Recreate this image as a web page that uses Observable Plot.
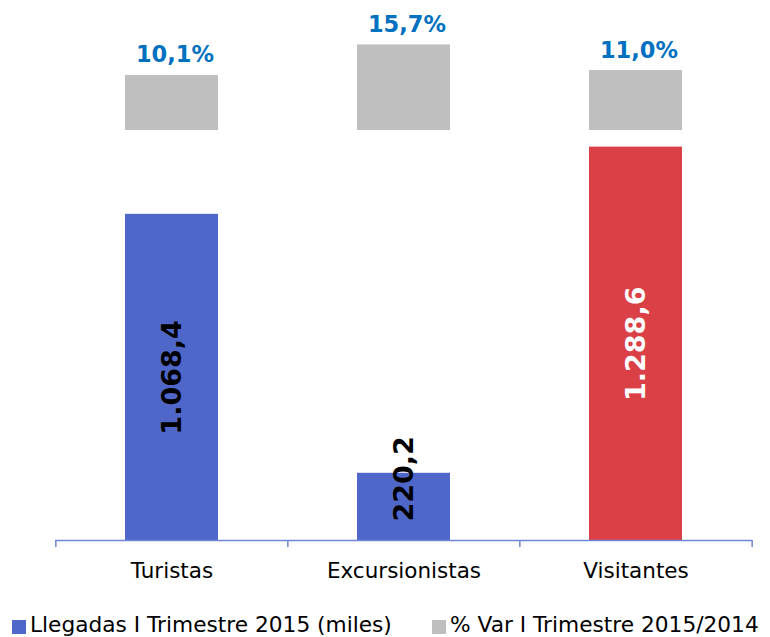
<!DOCTYPE html>
<html>
<head>
<meta charset="utf-8">
<script src="https://cdn.jsdelivr.net/npm/d3@7"></script>
<script src="https://cdn.jsdelivr.net/npm/@observablehq/plot@0.6"></script>
<style>
  body { margin: 0; background: #fff; font-family: Verdana, "DejaVu Sans", sans-serif; }
  #wrap { position: relative; width: 770px; height: 637px; overflow: hidden; background: #fff; }
  #wrap svg { position: absolute; left: 0; top: 0; }
  .lg { position: absolute; font-size: 21.7px; line-height: 24px; white-space: nowrap; color: #000; }
  .sw { position: absolute; width: 14px; height: 14px; }
</style>
</head>
<body>
<div id="wrap"></div>
<script>
// ---- data ----
const categories = ["Turistas", "Excursionistas", "Visitantes"];
const llegadas = [1068.4, 220.2, 1288.6];           // miles
const variacion = [10.1, 15.7, 11.0];               // %
const legendLabels = ["Llegadas I Trimestre 2015 (miles)", "% Var I Trimestre 2015/2014"];

// ---- styling ----
const BLUE = "#4F67C9", RED = "#DA4046", GRAY = "#BFBFBF", LABEL = "#0070C0", AXIS = "#6F86D6";
const FONT = 'Verdana, "DejaVu Sans", sans-serif';
const W = 770, H = 600, ML = 55, MR = 18;

const es = d3.formatLocale({decimal: ",", thousands: ".", grouping: [3]});
const fmtNum = es.format(",.1f");
const fmtPct = d => es.format(".1f")(d) + "%";

const data = categories.map((c, i) => ({cat: c, value: llegadas[i], pct: variacion[i]}));
const step = (W - ML - MR) / categories.length;
const xOpts = {domain: categories, paddingInner: 0.6, paddingOuter: 0.3};

const p1 = Plot.plot({
  width: W, height: H,
  marginLeft: ML, marginRight: MR, marginTop: 21, marginBottom: 60,
  x: xOpts,
  y: {domain: [0, 1700], axis: null},
  color: {domain: categories, range: [BLUE, BLUE, RED]},
  style: {fontFamily: FONT, background: "transparent", overflow: "visible"},
  marks: [
    Plot.barY(data, {x: "cat", y: "value", fill: "cat"}),
    Plot.ruleY([0], {stroke: AXIS, strokeWidth: 1.5}),
    Plot.ruleX(categories, {x: d => d, y1: 0, y2: -23, dx: -step / 2, stroke: AXIS, strokeWidth: 1.5}),
    Plot.ruleX(categories.slice(-1), {x: d => d, y1: 0, y2: -23, dx: step / 2, stroke: AXIS, strokeWidth: 1.5}),
    Plot.axisX({tickSize: 0, tickPadding: 22, fontSize: 21.5, label: null, fill: "#000"}),
    // value labels inside bars
    Plot.text(data.filter(d => d.value >= 400 && d.cat !== "Visitantes"), {
      x: "cat", y: d => d.value / 2, text: d => fmtNum(d.value), rotate: -90,
      fill: "#000", fontSize: 27, fontWeight: "bold"
    }),
    Plot.text(data.filter(d => d.cat === "Visitantes"), {
      x: "cat", y: d => d.value / 2, text: d => fmtNum(d.value), rotate: -90,
      fill: "#fff", fontSize: 27, fontWeight: "bold"
    }),
    Plot.text(data.filter(d => d.value < 400), {
      x: "cat", y: 0, text: d => fmtNum(d.value), rotate: -90, textAnchor: "start",
      dy: -19, fill: "#000", fontSize: 27, fontWeight: "bold"
    })
  ]
});

const p2 = Plot.plot({
  width: W, height: H,
  marginLeft: ML, marginRight: MR, marginTop: 21, marginBottom: H - 130,
  x: {...xOpts, axis: null},
  y: {domain: [0, 20], axis: null},
  style: {fontFamily: FONT, background: "transparent", overflow: "visible"},
  marks: [
    Plot.barY(data, {x: "cat", y: "pct", fill: GRAY}),
    Plot.text(data, {
      x: "cat", y: "pct", text: d => fmtPct(d.pct), lineAnchor: "bottom", dy: -13, dx: 3,
      fill: LABEL, fontSize: 22.5, fontWeight: "bold"
    })
  ]
});

const wrap = document.getElementById("wrap");
wrap.appendChild(p1);
wrap.appendChild(p2);

// legend
const legendColors = [BLUE, GRAY];
const legendX = [12, 432];
legendLabels.forEach((t, i) => {
  const sw = document.createElement("div");
  sw.className = "sw";
  sw.style.left = legendX[i] + "px";
  sw.style.top = "620px";
  sw.style.background = legendColors[i];
  wrap.appendChild(sw);
  const lb = document.createElement("div");
  lb.className = "lg";
  lb.style.left = (legendX[i] + 18) + "px";
  lb.style.top = "613px";
  lb.textContent = t;
  wrap.appendChild(lb);
});
</script>
</body>
</html>
